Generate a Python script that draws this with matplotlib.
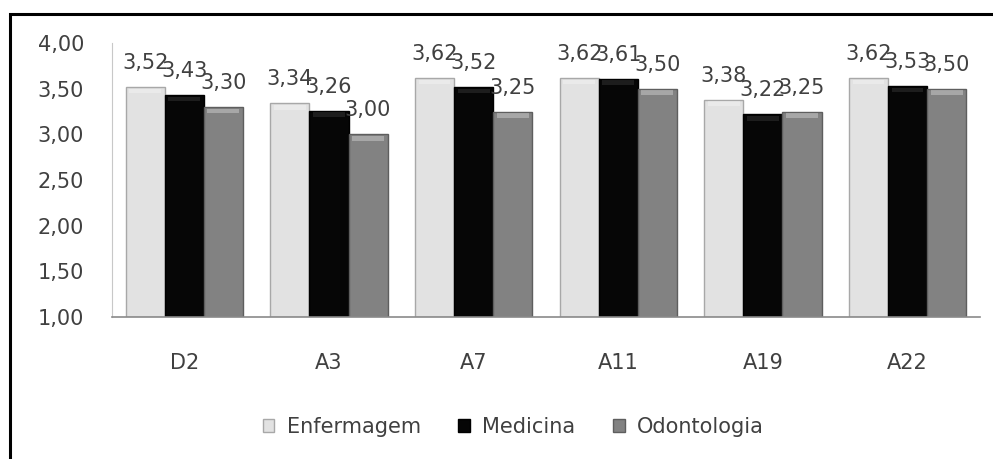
import numpy as np
import matplotlib
matplotlib.use("Agg")
import matplotlib.pyplot as plt
from matplotlib.patches import Rectangle

# Values per item for each course
items = ["D2", "A3", "A7", "A11", "A19", "A22"]
enfermagem = [3.52, 3.34, 3.62, 3.62, 3.38, 3.62]
medicina = [3.43, 3.26, 3.52, 3.61, 3.22, 3.53]
odontologia = [3.30, 3.00, 3.25, 3.50, 3.25, 3.50]
yticks = [1.0, 1.5, 2.0, 2.5, 3.0, 3.5, 4.0]

series = [
    ("Enfermagem", enfermagem, "#e2e2e2", "#a8a8a8"),
    ("Medicina", medicina, "#060606", "#000000"),
    ("Odontologia", odontologia, "#828282", "#5e5e5e"),
]

plt.rcParams["font.family"] = ["DejaVu Sans"]
txt = "#404040"
fs = 15

fig = plt.figure(figsize=(9.93, 4.59), dpi=100)
ax = fig.add_axes([0.1128, 0.3094, 0.874, 0.5969])

x = np.arange(len(items))
w = 0.27
for k, (name, vals, fc, ec) in enumerate(series):
    pos = x + (k - 1) * w
    bars = ax.bar(pos, np.array(vals) - 1.0, w, bottom=1.0, color=fc,
                  edgecolor=ec, linewidth=1.0, label=name, zorder=2)
    # soft bevel near the top of each bar
    hi = "white" if k != 1 else "#555555"
    for b, v in zip(bars, vals):
        ax.add_patch(Rectangle((b.get_x() + 0.025, v - 0.07), w - 0.05, 0.05,
                               color=hi, alpha=0.3, lw=0, zorder=3))
    for p, v in zip(pos, vals):
        ax.annotate(f"{v:.2f}".replace(".", ","), (p, v), xytext=(0, 10),
                    textcoords="offset points", ha="center", va="bottom",
                    fontsize=fs, color=txt, zorder=4)

ax.set_xlim(-0.5, len(items) - 0.5)
ax.set_ylim(1.0, 4.0)
ax.set_yticks(yticks)
ax.set_yticklabels([f"{t:.2f}".replace(".", ",") for t in yticks])
ax.set_xticks(x)
ax.set_xticklabels(items)
ax.tick_params(axis="both", length=0, labelsize=fs, labelcolor=txt)
ax.tick_params(axis="y", pad=20)
ax.tick_params(axis="x", pad=26)
for s in ["top", "right"]:
    ax.spines[s].set_visible(False)
ax.spines["left"].set_color("#c8c8c8")
ax.spines["bottom"].set_color("#8a8a8a")
ax.spines["bottom"].set_linewidth(1.2)

leg = fig.legend(loc="center", bbox_to_anchor=(0.517, 0.07), ncol=3,
                 frameon=False, fontsize=fs, handlelength=0.55,
                 handleheight=0.55, handletextpad=0.6, columnspacing=1.8)
for t in leg.get_texts():
    t.set_color(txt)

# outer frame around the chart
fig.patches.append(Rectangle((10 / 993, -0.1), 1.2, 1 - 14 / 459 + 0.1,
                             transform=fig.transFigure, fill=False,
                             edgecolor="black", linewidth=2.2))

fig.savefig("out.png", dpi=100)
